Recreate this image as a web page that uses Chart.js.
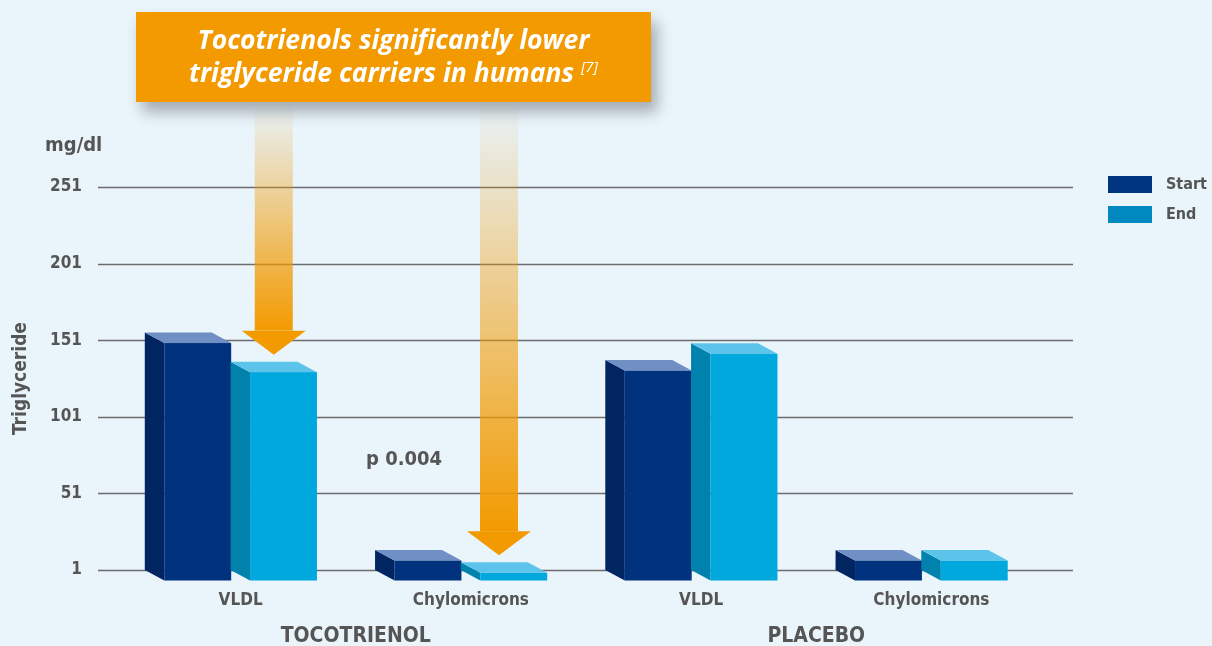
<!DOCTYPE html>
<html>
<head>
<meta charset="utf-8">
<script src="https://cdn.jsdelivr.net/npm/chart.js@4.4.1/dist/chart.umd.min.js"></script>
<style>
    html, body { margin: 0; padding: 0; background: #e9f4fb; }
    #wrap { position: relative; width: 1212px; height: 646px; overflow: hidden; background: #e9f4fb; }
    #chart { position: absolute; left: 0; top: 0; }
    #banner {
        position: absolute; left: 136px; top: 12px; width: 515px; height: 90px;
        background: #f29a00; box-shadow: 6px 10px 14px rgba(0, 0, 0, 0.3);
        color: #fff; font: italic bold 26.5px 'Open Sans', sans-serif;
        text-align: center; line-height: 33px; padding-top: 11px; box-sizing: border-box;
    }
    #banner sup { font-size: 15px; font-weight: normal; vertical-align: 10px; line-height: 0; }
    .leg { position: absolute; left: 1108px; font: bold 16px 'DejaVu Sans Condensed', 'DejaVu Sans', sans-serif; color: #555; }
    .leg span { display: inline-block; width: 44px; height: 17px; vertical-align: middle; margin-right: 14px; }
</style>
</head>
<body>
<div id="wrap">
    <canvas id="chart" width="1212" height="646"></canvas>
    <div id="banner">Tocotrienols significantly lower<br>triglyceride carriers in humans <sup>[7]</sup></div>
    <div class="leg" style="top:174px"><span style="background:#003580"></span>Start</div>
    <div class="leg" style="top:204px"><span style="background:#0088c0"></span>End</div>
</div>
<script>
// Triglyceride (mg/dl), start vs end of study
const categories = ['VLDL', 'Chylomicrons', 'VLDL', 'Chylomicrons'];
const groups = ['TOCOTRIENOL', 'PLACEBO'];
const startValues = [156, 14, 138, 14];
const endValues = [137, 6, 149, 14];
const yTicks = [1, 51, 101, 151, 201, 251];

const FONT = "'DejaVu Sans Condensed', 'DejaVu Sans', sans-serif";
const DX = 19.5, DY = 10.5; // depth of the 3D bars
const faces = [
    { front: '#00327d', side: '#002561', top: '#6f8fc5' },
    { front: '#00a8de', side: '#0082ad', top: '#5cc4ea' }
];

// draws the grid, then every bar as a little box, replacing the flat bars
const bars3d = {
    id: 'bars3d',
    beforeDatasetsDraw(chart) {
        const ctx = chart.ctx;
        const y = chart.scales.y;
        ctx.save();
        ctx.strokeStyle = '#6c6c6c';
        ctx.lineWidth = 1.5;
        yTicks.forEach(v => {
            const py = Math.round(y.getPixelForValue(v)) + 0.5;
            ctx.beginPath();
            ctx.moveTo(98, py);
            ctx.lineTo(1073, py);
            ctx.stroke();
        });

        chart.data.datasets.forEach((ds, di) => {
            const c = faces[di];
            chart.getDatasetMeta(di).data.forEach(bar => {
                const l = bar.x - bar.width / 2, r = bar.x + bar.width / 2;
                const t = bar.y, b = Math.min(bar.base, chart.chartArea.bottom);
                ctx.fillStyle = c.side;
                ctx.beginPath();
                ctx.moveTo(l, t); ctx.lineTo(l + DX, t + DY); ctx.lineTo(l + DX, b + DY); ctx.lineTo(l, b);
                ctx.closePath(); ctx.fill();
                ctx.fillStyle = c.top;
                ctx.beginPath();
                ctx.moveTo(l, t); ctx.lineTo(r, t); ctx.lineTo(r + DX, t + DY); ctx.lineTo(l + DX, t + DY);
                ctx.closePath(); ctx.fill();
                ctx.fillStyle = c.front;
                ctx.fillRect(l + DX, t + DY, r - l, b - t);
            });
        });
        ctx.restore();
        return false;
    },
    afterDraw(chart) {
        const ctx = chart.ctx;
        const x = chart.scales.x;
        ctx.save();

        // arrows pointing at the tocotrienol "End" bars
        const endMeta = chart.getDatasetMeta(1).data;
        [0, 1].forEach(i => {
            const bar = endMeta[i];
            const cx = bar.x + DX / 2 - (i === 1 ? 5 : 0);
            const tip = bar.y - 7;
            const headTop = tip - 24;
            const shaftTop = 108;
            const g = ctx.createLinearGradient(0, shaftTop, 0, headTop);
            g.addColorStop(0, 'rgba(242,154,0,0.02)');
            g.addColorStop(1, 'rgba(242,154,0,1)');
            ctx.fillStyle = g;
            ctx.fillRect(cx - 19, shaftTop, 38, headTop - shaftTop);
            ctx.fillStyle = '#f29a00';
            ctx.beginPath();
            ctx.moveTo(cx - 32, headTop); ctx.lineTo(cx + 32, headTop); ctx.lineTo(cx, tip);
            ctx.closePath(); ctx.fill();
        });

        ctx.fillStyle = '#555';
        ctx.textBaseline = 'middle';
        ctx.font = 'bold 20px ' + FONT;
        ctx.textAlign = 'left';
        ctx.fillText('p 0.004', 366, 460);
        ctx.fillText('mg/dl', 45, 146);

        ctx.textAlign = 'center';
        ctx.font = 'bold 21px ' + FONT;
        groups.forEach((g, gi) => {
            const cx = (x.getPixelForValue(gi * 2) + x.getPixelForValue(gi * 2 + 1)) / 2 + DX;
            ctx.fillText(g, cx, 637);
        });
        ctx.restore();
    }
};

new Chart(document.getElementById('chart'), {
    type: 'bar',
    data: {
        labels: categories,
        datasets: [
            { label: 'Start', data: startValues, backgroundColor: faces[0].front },
            { label: 'End', data: endValues, backgroundColor: faces[1].front }
        ]
    },
    options: {
        responsive: false,
        animation: false,
        categoryPercentage: 0.745,
        barPercentage: 0.78,
        layout: { padding: { top: 187, right: 185, bottom: 0, left: 0 } },
        plugins: { legend: { display: false }, tooltip: { enabled: false } },
        scales: {
            x: {
                grid: { display: false, drawTicks: false },
                border: { display: false },
                ticks: { color: '#555', font: { family: FONT, size: 17, weight: 'bold' }, padding: 20, labelOffset: DX, maxRotation: 0 },
                afterFit: s => { s.height = 76; }
            },
            y: {
                min: 1,
                max: 251,
                afterBuildTicks: s => { s.ticks = yTicks.map(v => ({ value: v })); },
                grid: { display: false, drawTicks: false },
                border: { display: false },
                ticks: { color: '#555', font: { family: FONT, size: 17, weight: 'bold' }, padding: 24 },
                title: { display: true, text: 'Triglyceride', color: '#555', font: { family: FONT, size: 19, weight: 'bold' }, padding: { top: 10, bottom: 0 } },
                afterFit: s => { s.width = 106; }
            }
        }
    },
    plugins: [bars3d]
});
</script>
</body>
</html>
